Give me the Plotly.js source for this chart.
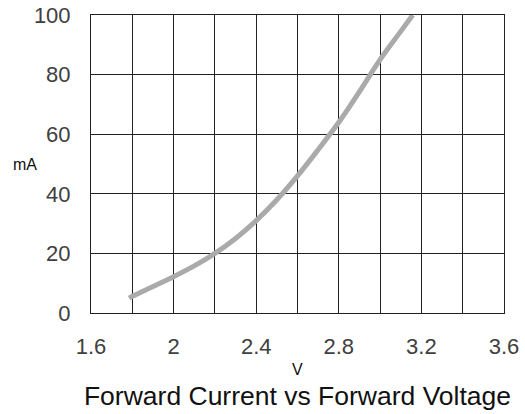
<!DOCTYPE html>
<html>
<head>
<meta charset="utf-8">
<script src="https://cdn.plot.ly/plotly-3.0.1.min.js"></script>
<style>html,body{margin:0;padding:0;background:#fff;}#chart{width:525px;height:414px;}</style>
</head>
<body>
<div id="chart"></div>
<script>
var voltage = [1.785, 1.8, 1.9, 2.0, 2.1, 2.2, 2.3, 2.4, 2.5, 2.6, 2.7, 2.8, 2.9, 3.0, 3.1, 3.158];
var current = [5, 5.6, 8.9, 12.2, 15.8, 20, 25, 31, 38, 46, 54.8, 64, 74.3, 85, 94.5, 100];
var xTicks = [1.6, 2, 2.4, 2.8, 3.2, 3.6];
var yTicks = [0, 20, 40, 60, 80, 100];
var chartTitle = "Forward Current vs Forward Voltage";
var xLabel = "V";
var yLabel = "mA";

var trace = {
  x: voltage, y: current, type: "scatter", mode: "lines",
  line: {color: "#aaaaaa", width: 5, shape: "spline", smoothing: 1},
  hoverinfo: "none"
};

var layout = {
  width: 525, height: 414,
  margin: {l: 91, r: 21, t: 15, b: 101},
  paper_bgcolor: "#ffffff", plot_bgcolor: "#ffffff",
  showlegend: false,
  font: {family: "Liberation Sans, Arial, sans-serif", color: "#333333"},
  title: {
    text: chartTitle,
    font: {size: 26.5, color: "#111111", family: "Liberation Sans, Arial, sans-serif"},
    xref: "paper", x: 0.5, xanchor: "center",
    yref: "container", y: 1 - 396/414, yanchor: "middle"
  },
  xaxis: {
    range: [1.6, 3.6], tickvals: xTicks, ticktext: xTicks.map(String),
    showgrid: true, gridcolor: "#222222", gridwidth: 1,
    minor: {dtick: 0.2, tick0: 1.6, showgrid: true, gridcolor: "#222222", gridwidth: 1, ticks: ""},
    showline: true, linecolor: "#222222", linewidth: 1, mirror: true,
    zeroline: false, ticks: "outside", ticklen: 14, tickcolor: "rgba(0,0,0,0)",
    tickfont: {size: 22, color: "#404040"}, fixedrange: true
  },
  yaxis: {
    range: [0, 100], tickvals: yTicks, ticktext: yTicks.map(String),
    showgrid: true, gridcolor: "#222222", gridwidth: 1,
    showline: true, linecolor: "#222222", linewidth: 1, mirror: true,
    zeroline: false, ticks: "outside", ticklen: 15, tickcolor: "rgba(0,0,0,0)",
    tickfont: {size: 22, color: "#404040"}, fixedrange: true
  },
  annotations: [
    {text: yLabel, xref: "paper", yref: "paper", x: -0.127, y: 0.5, xanchor: "right", yanchor: "middle",
     showarrow: false, font: {size: 16, color: "#111111"}},
    {text: xLabel, xref: "paper", yref: "paper", x: 0.5, y: -0.19, xanchor: "center", yanchor: "middle",
     showarrow: false, font: {size: 16, color: "#111111"}}
  ]
};

Plotly.newPlot("chart", [trace], layout, {staticPlot: true, displayModeBar: false});
</script>
</body>
</html>
